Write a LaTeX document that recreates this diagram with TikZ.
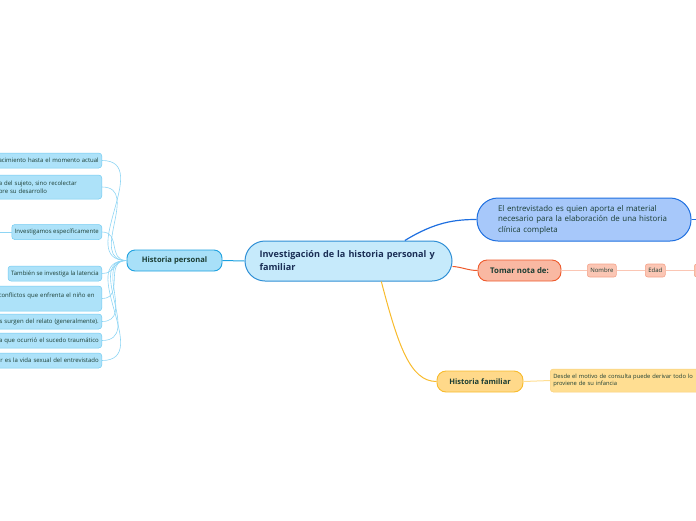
\documentclass[tikz,border=0pt]{standalone}
\usepackage{fontspec}
\setmainfont{Open Sans}
\usetikzlibrary{positioning}
\definecolor{inkgreen}{HTML}{1B3D33}
\definecolor{inknavy}{HTML}{1A2E55}
\definecolor{cenfill}{HTML}{C6EAFB}
\definecolor{cenline}{HTML}{2F8FD5}
\definecolor{hpfill}{HTML}{A8E0F8}
\definecolor{hpline}{HTML}{1DA1E0}
\definecolor{leaffill}{HTML}{ADE2F9}
\definecolor{leafline}{HTML}{72CBF1}
\definecolor{trfill}{HTML}{A7C8FA}
\definecolor{trline}{HTML}{1E6FE0}
\definecolor{tnfill}{HTML}{F9B8A2}
\definecolor{tnline}{HTML}{EE5A2C}
\definecolor{tsfill}{HTML}{FBC6B4}
\definecolor{tsline}{HTML}{F4A38B}
\definecolor{hffill}{HTML}{FFD98A}
\definecolor{hfline}{HTML}{F8BB2C}
\definecolor{hsfill}{HTML}{FFDE92}
\definecolor{hsline}{HTML}{F9D07A}
\begin{document}
\begin{tikzpicture}[x=1pt,y=-1pt,
	central/.style={draw=cenline,fill=cenfill,line width=1pt,rounded corners=20pt,minimum width=207pt,minimum height=40pt,text width=178pt,align=left,text=inknavy,font=\fontsize{9.1}{13}\selectfont\bfseries},
	hpbox/.style={draw=hpline,fill=hpfill,line width=0.9pt,rounded corners=8pt,minimum width=95pt,minimum height=21pt,text=inkgreen,font=\fontsize{7.6}{9}\selectfont\bfseries},
	leaf/.style={draw=leafline,fill=leaffill,line width=0.5pt,rounded corners=3pt,inner sep=3pt,minimum height=15pt,text=inkgreen,font=\fontsize{6}{7.5}\selectfont},
	cutleaf/.style={leaf,anchor=east,text width=110pt,align=right},
	trbox/.style={draw=trline,fill=trfill,line width=1pt,rounded corners=21pt,minimum width=214pt,minimum height=43pt,text width=172pt,align=left,text=inkgreen,font=\fontsize{7.9}{10.5}\selectfont},
	tnbox/.style={draw=tnline,fill=tnfill,line width=0.9pt,rounded corners=9pt,minimum width=83pt,minimum height=21pt,text=inkgreen,font=\fontsize{7.8}{9}\selectfont\bfseries},
	tsbox/.style={draw=tsline,fill=tsfill,line width=0.6pt,rounded corners=2.5pt,inner sep=3pt,minimum height=13pt,text=inkgreen,font=\fontsize{6}{7.5}\selectfont},
	hfbox/.style={draw=hfline,fill=hffill,line width=0.9pt,rounded corners=9pt,minimum width=86pt,minimum height=21pt,text=inkgreen,font=\fontsize{7.5}{9}\selectfont\bfseries},
	hsbox/.style={draw=hsline,fill=hsfill,line width=0.5pt,rounded corners=3pt,inner sep=3pt,minimum height=23pt,text width=160pt,align=left,text=inkgreen,font=\fontsize{5.8}{7.5}\selectfont},
	leaflink/.style={draw=leafline!80,line width=0.6pt},
	]
	\useasboundingbox (0,0) rectangle (696,520);
	\clip (0,0) rectangle (696,520);

	\node[central] (inv) at (348.5,261) {Investigación de la historia personal y\\familiar};
	\node[hpbox] (hp) at (174.5,260.5) {Historia personal};
	\node[trbox] (tr) at (584,219.5) {El entrevistado es quien aporta el material\\necesario para la elaboración de una historia\\clínica completa};
	\node[tnbox] (tn) at (519.5,270.5) {Tomar nota de:};
	\node[tsbox,anchor=west] (nombre) at (587,270.5) {Nombre};
	\node[tsbox,anchor=west] (edad) at (645,270.5) {Edad};
	\node[tsbox,anchor=west,minimum width=30pt] (tsnext) at (694,270.5) {};
	\node[hfbox] (hf) at (480,381.5) {Historia familiar};
	\node[hsbox,anchor=west] (hs) at (550,380.5) {Desde el motivo de consulta puede derivar todo lo\\proviene de su infancia};

	\node[cutleaf] (p1) at (102,160.5) {acimiento hasta el momento actual};
	\node[leaf,anchor=east,text width=100pt,align=left,minimum height=24pt] (p2) at (102,187) {a del sujeto, sino recolectar\\bre su desarrollo};
	\node[leaf,anchor=east] (p3) at (102,232) {Investigamos específicamente};
	\node[leaf,anchor=east] (p4) at (102,273.5) {También se investiga la latencia};
	\node[leaf,anchor=east,text width=100pt,align=left,minimum height=25pt] (p5) at (102,298.5) {conflictos que enfrenta el niño en\\\mbox{}};
	\node[cutleaf] (p6) at (102,321.5) {s surgen del relato (generalmente).};
	\node[cutleaf] (p7) at (102,340.5) {a que ocurrió el sucedo traumático};
	\node[cutleaf] (p8) at (102,360.5) {r es la vida sexual del entrevistado};
	\coordinate (p3in) at (0,232);
	\coordinate (trout) at (700,219.5);

	\draw[hpline,line width=1pt] (inv.west) -- (hp.east);
	\draw[trline,line width=1.2pt] (inv.20) .. controls (435,222) and (455,219.5) .. (tr.west);
	\draw[tnline,line width=1pt] (inv.-3) .. controls (462,267) and (468,270.5) .. (tn.west);
	\draw[hfline,line width=1pt] (inv.-32) .. controls (398,345) and (410,381.5) .. (hf.west);
	\draw[trline,line width=1pt] (tr.east) -- (trout);
	\draw[tsfill,line width=1pt] (tn.east) -- (nombre.west);
	\draw[tsfill,line width=1pt] (nombre.east) -- (edad.west);
	\draw[tsfill,line width=1pt] (edad.east) -- (tsnext.west);
	\draw[hsfill,line width=1pt] (hf.east) -- (hs.west);
	\draw[leaflink] (p3in) -- (p3.west);
	\foreach \p in {p1,p2,p3,p4,p5,p6,p7,p8}
		\draw[leaflink] (hp.west) to[out=180,in=0,looseness=1.3] (\p.east);
\end{tikzpicture}
\end{document}
